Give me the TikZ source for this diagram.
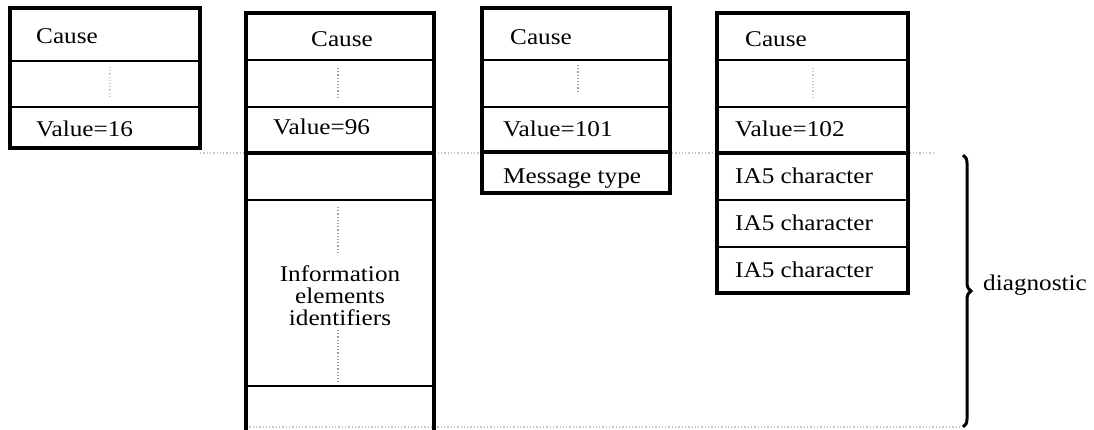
\documentclass[tikz,border=0pt]{standalone}
\usepackage{fontspec}
\setmainfont{Liberation Serif}[FakeStretch=1.12]
\usetikzlibrary{decorations.pathreplacing}
\begin{document}
\begin{tikzpicture}[x=1pt,y=1pt,
  frame/.style={line width=3.4pt,line cap=rect},
  sep/.style={line width=1.3pt},
  heavysep/.style={line width=3.2pt},
  field/.style={inner sep=0pt,anchor=base west,font=\fontsize{22.5}{23}\selectfont},
  cfield/.style={field,anchor=base},
  gap/.style={gray!75,dotted,line width=1.2pt},
  faintgap/.style={gray!40,dotted,line width=1.2pt},
  guide/.style={gray!45,dotted,line width=1.3pt}]
\useasboundingbox (0,0) rectangle (1094,429);

% octet boundary guides
\draw[guide] (200,276) -- (935,276);
\draw[guide] (246,2) -- (960,2);

% cause 16
\draw[sep] (10,368) -- (200,368) (10,322) -- (200,322);
\draw[faintgap] (110,362) -- (110,332);
\draw[frame] (10,281) rectangle (200,421);
\node[field] (c1) at (36,385) {Cause};
\node[field] (v1) at (36,292) {Value=16};

% cause 96
\draw[sep] (246,369) -- (434,369) (246,322) -- (434,322)
           (246,229) -- (434,229) (246,43) -- (434,43);
\draw[heavysep] (246,276) -- (434,276);
\draw[gap] (338,361) -- (338,332);
\draw[gap] (338,222) -- (338,174) (338,99) -- (338,46);
\draw[frame] (246,0) -- (246,416) -- (434,416) -- (434,0);
\node[cfield] (c2) at (342,382) {Cause};
\node[field] (v2) at (273,294) {Value=96};
\node[inner sep=0pt,align=center,font=\fontsize{22.5}{22}\selectfont]
  (ie) at (340,133) {Information\\elements\\identifiers};

% cause 101
\draw[sep] (482,369) -- (670,369) (482,322) -- (670,322);
\draw[heavysep] (482,277) -- (670,277);
\draw[gap] (578,364) -- (578,336);
\draw[frame] (482,236) rectangle (670,421);
\node[field] (c3) at (510,384) {Cause};
\node[field] (v3) at (503,292) {Value=101};
\node[field] (m3) at (503,246) {Message type};

% cause 102
\draw[sep] (717,369) -- (908,369) (717,322) -- (908,322)
           (717,229) -- (908,229) (717,182) -- (908,182);
\draw[heavysep] (717,276) -- (908,276);
\draw[faintgap] (813,361) -- (813,332);
\draw[frame] (717,136) rectangle (908,416);
\node[field] (c4) at (745,382) {Cause};
\node[field] (v4) at (735,292) {Value=102};
\node[field] (a1) at (735,246) {IA5 character};
\node[field] (a2) at (735,199) {IA5 character};
\node[field] (a3) at (735,152) {IA5 character};

% diagnostic span
\coordinate (btop) at (963,274);
\coordinate (bbot) at (963,2);
\draw[line width=3pt,decorate,decoration={brace,amplitude=8pt}] (btop) -- (bbot);
\node[field] (dg) at (983,139) {diagnostic};
\end{tikzpicture}
\end{document}
